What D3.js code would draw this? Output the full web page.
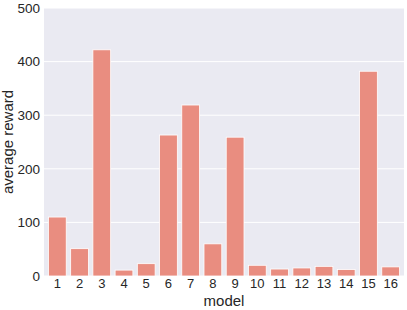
<!DOCTYPE html>
<meta charset="utf-8">
<style>
body { margin: 0; background: #fff; }
text { font-family: "Liberation Sans", Arial, sans-serif; fill: #262626; }
</style>
<svg id="chart" width="407" height="310"></svg>
<script src="https://d3js.org/d3.v7.min.js"></script>
<script>
var models = ["1","2","3","4","5","6","7","8","9","10","11","12","13","14","15","16"];
var rewards = [110, 51, 422, 11, 23, 263, 319, 60, 259, 20, 13, 15, 18, 12, 382, 17];
var yTicks = [0, 100, 200, 300, 400, 500];

var svg = d3.select("#chart"),
    margin = {top: 8, right: 3, bottom: 34, left: 44},
    width = 407 - margin.left - margin.right,
    height = 310 - margin.top - margin.bottom;

var g = svg.append("g").attr("transform", "translate(" + margin.left + "," + margin.top + ")");

g.append("rect").attr("width", width).attr("height", height).attr("fill", "#EAEAF2");

var x = d3.scaleBand().domain(models).range([0, width]).padding(0.2);
var y = d3.scaleLinear().domain([0, 500]).range([height, 0]);

// grid
g.selectAll(".grid").data(yTicks).enter().append("line")
    .attr("x1", 0).attr("x2", width)
    .attr("y1", function(d) { return y(d); }).attr("y2", function(d) { return y(d); })
    .attr("stroke", "#fff").attr("stroke-width", 1);

g.selectAll(".bar").data(rewards).enter().append("rect")
    .attr("x", function(d, i) { return x(models[i]); })
    .attr("y", function(d) { return y(d); })
    .attr("width", x.bandwidth())
    .attr("height", function(d) { return height - y(d); })
    .attr("fill", "#E98D80")
    .attr("stroke", "#fff")
    .attr("stroke-width", 0.8);

var xAxis = g.append("g").attr("transform", "translate(0," + height + ")")
    .call(d3.axisBottom(x).tickSize(0).tickPadding(3));
xAxis.select(".domain").remove();
xAxis.selectAll("text").attr("font-size", 13).style("font-family", "Liberation Sans, Arial, sans-serif").attr("fill", "#262626");

var yAxis = g.append("g")
    .call(d3.axisLeft(y).tickValues(yTicks).tickSize(0).tickPadding(4));
yAxis.select(".domain").remove();
yAxis.selectAll("text").attr("font-size", 13.5).style("font-family", "Liberation Sans, Arial, sans-serif").attr("fill", "#262626");

svg.append("text")
    .attr("x", margin.left + width / 2).attr("y", 306)
    .attr("text-anchor", "middle").attr("font-size", 15)
    .text("model");

svg.append("text")
    .attr("transform", "translate(13," + (margin.top + height / 2) + ") rotate(-90)")
    .attr("text-anchor", "middle").attr("font-size", 15)
    .text("average reward");
</script>
